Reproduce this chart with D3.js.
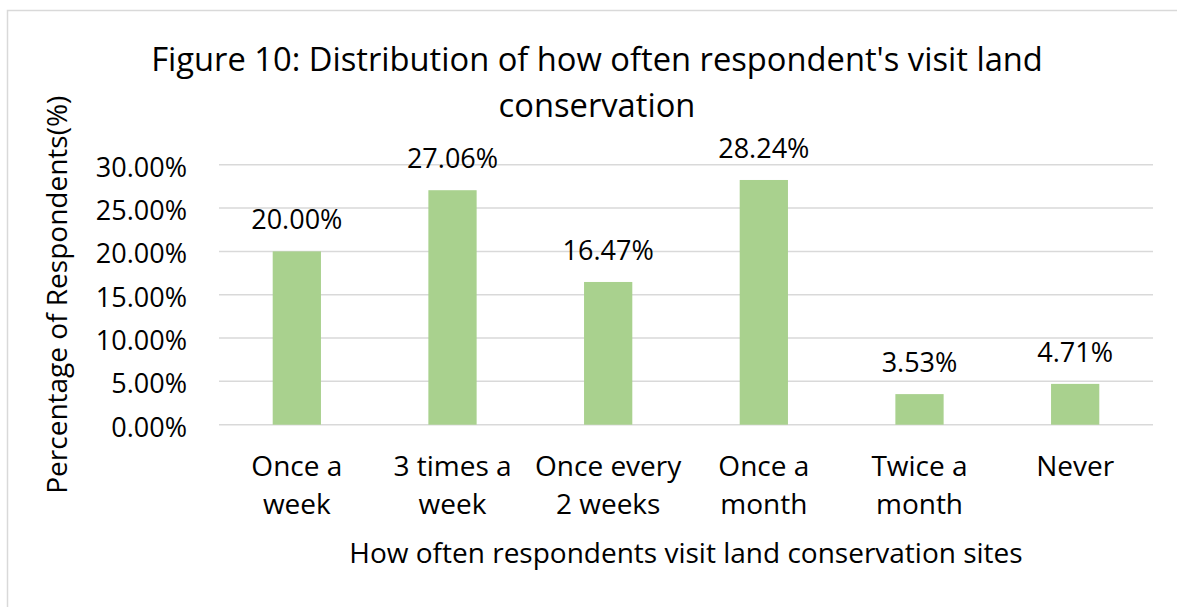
<!DOCTYPE html>
<html>
<head>
<meta charset="utf-8">
<script src="https://cdn.jsdelivr.net/npm/d3@7"></script>
<style>
  html, body { margin: 0; padding: 0; background: #fff; }
  svg { display: block; font-family: "Open Sans", "Noto Sans", sans-serif; }
</style>
</head>
<body>
<svg id="chart" width="1177" height="607"></svg>
<script>
// Visit frequency categories (each label split into display lines)
const categories = [
  ["Once a", "week"],
  ["3 times a", "week"],
  ["Once every", "2 weeks"],
  ["Once a", "month"],
  ["Twice a", "month"],
  ["Never"]
];
// Share of respondents per category, in percent
const values = [20.00, 27.06, 16.47, 28.24, 3.53, 4.71];
// Y axis tick values, in percent
const yTicks = [0, 5, 10, 15, 20, 25, 30];

const titleLines = [
  "Figure 10: Distribution of how often respondent's visit land",
  "conservation"
];
const yTitle = "Percentage of Respondents(%)";
const xTitle = "How often respondents visit land conservation sites";

const svg = d3.select("#chart");
const W = 1177, H = 607;
const plot = { left: 219, right: 1153, top: 121.4, bottom: 424.7 };
const labelSize = 27;

// Chart frame
svg.append("rect")
  .attr("x", 7.5).attr("y", 10.5)
  .attr("width", W + 20).attr("height", H + 20)
  .attr("fill", "#fff").attr("stroke", "#d9d9d9").attr("stroke-width", 1.5);

const x = d3.scaleBand()
  .domain(d3.range(categories.length))
  .range([plot.left, plot.right])
  .paddingInner(0.69).paddingOuter(0.345);

const y = d3.scaleLinear()
  .domain([0, 35])
  .range([plot.bottom, plot.top]);

// Horizontal gridlines
svg.append("g")
  .selectAll("line")
  .data(yTicks)
  .join("line")
  .attr("x1", plot.left).attr("x2", plot.right)
  .attr("y1", d => y(d)).attr("y2", d => y(d))
  .attr("stroke", "#d9d9d9").attr("stroke-width", 1.5);

// Y axis tick labels
const yAxis = d3.axisLeft(y)
  .tickValues(yTicks)
  .tickSize(0)
  .tickPadding(0)
  .tickFormat(d => d3.format(".2f")(d) + "%");
const gy = svg.append("g")
  .attr("transform", `translate(${plot.left - 32},0)`)
  .call(yAxis);
gy.select(".domain").remove();
gy.selectAll("text")
  .attr("font-family", "Open Sans")
  .attr("font-size", labelSize)
  .attr("fill", "#000")
  .attr("dy", "0.42em");

// Bars
svg.append("g")
  .selectAll("rect")
  .data(values)
  .join("rect")
  .attr("x", (d, i) => x(i))
  .attr("width", x.bandwidth())
  .attr("y", d => y(d))
  .attr("height", d => y(0) - y(d))
  .attr("fill", "#a9d18e");

// Value labels above the bars
svg.append("g")
  .selectAll("text")
  .data(values)
  .join("text")
  .attr("x", (d, i) => x(i) + x.bandwidth() / 2)
  .attr("y", d => y(d) - 22)
  .attr("text-anchor", "middle")
  .attr("font-size", labelSize)
  .attr("fill", "#000")
  .text(d => d3.format(".2f")(d) + "%");

// Category labels
const catG = svg.append("g")
  .selectAll("text")
  .data(categories)
  .join("text")
  .attr("x", (d, i) => x(i) + x.bandwidth() / 2)
  .attr("y", 476)
  .attr("text-anchor", "middle")
  .attr("font-size", 28)
  .attr("fill", "#000");
catG.selectAll("tspan")
  .data(d => d)
  .join("tspan")
  .attr("x", function () { return d3.select(this.parentNode).attr("x"); })
  .attr("dy", (d, i) => i === 0 ? 0 : 38)
  .text(d => d);

// Axis titles
svg.append("text")
  .attr("x", (plot.left + plot.right) / 2)
  .attr("y", 563)
  .attr("text-anchor", "middle")
  .attr("font-size", 28)
  .attr("fill", "#000")
  .text(xTitle);

svg.append("text")
  .attr("transform", `translate(67,${(y(0) + y(30)) / 2}) rotate(-90)`)
  .attr("text-anchor", "middle")
  .attr("font-size", 28)
  .attr("fill", "#000")
  .text(yTitle);

// Chart title
svg.append("g")
  .selectAll("text")
  .data(titleLines)
  .join("text")
  .attr("x", 597)
  .attr("y", (d, i) => 71 + i * 45.5)
  .attr("text-anchor", "middle")
  .attr("font-size", 32.7)
  .attr("fill", "#000")
  .text(d => d);
</script>
</body>
</html>
